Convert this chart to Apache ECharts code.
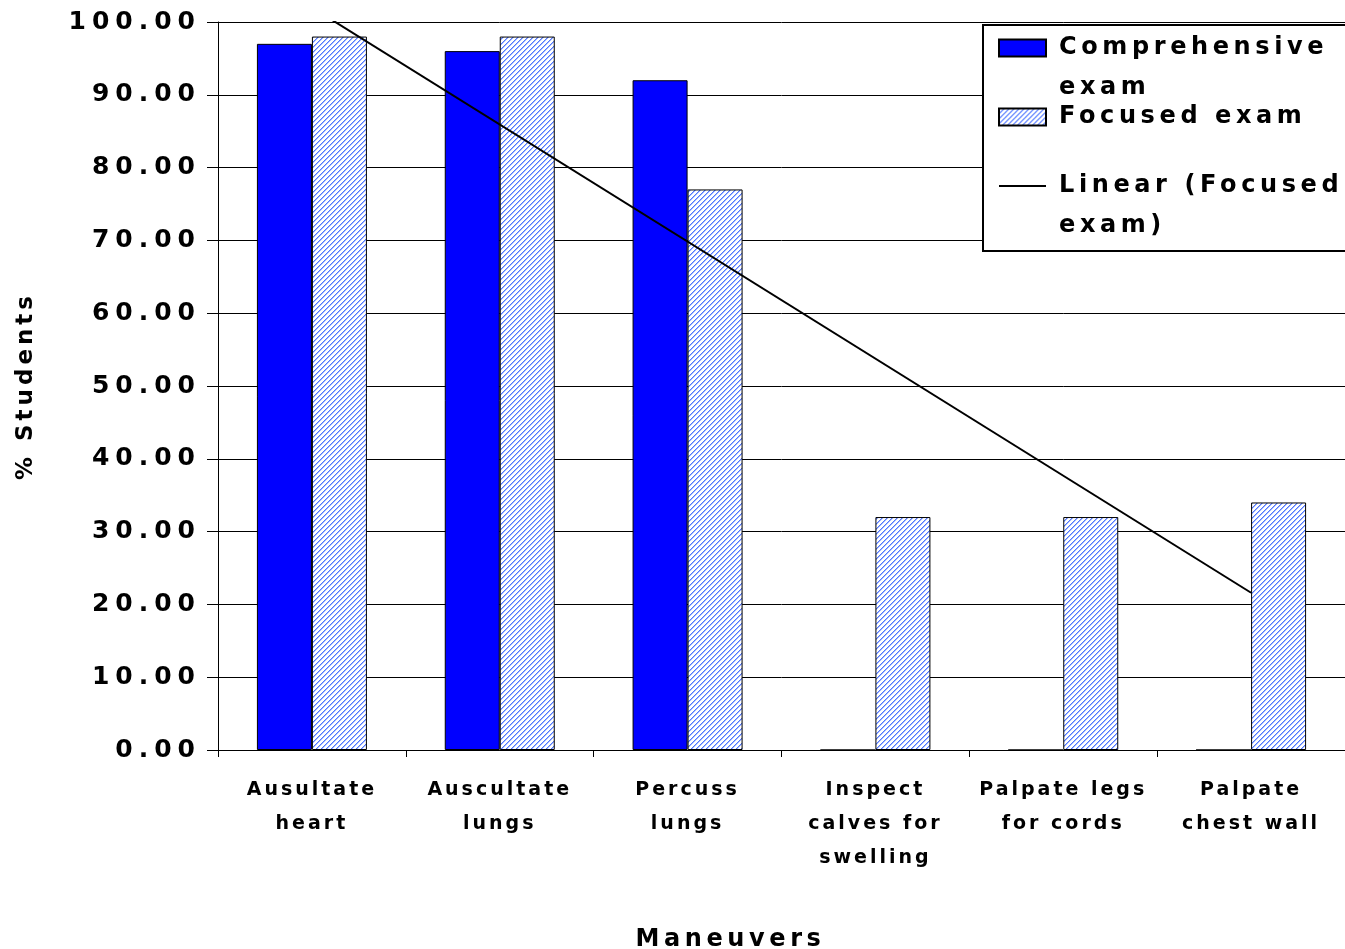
<!DOCTYPE html>
<html>
<head>
<meta charset="utf-8">
<script src="https://cdn.jsdelivr.net/npm/echarts@6/dist/echarts.min.js"></script>
<style>
html, body { margin: 0; padding: 0; background: #fff; overflow: hidden; }
#chart { width: 1345px; height: 949px; }
</style>
</head>
<body>
<div id="chart"></div>
<script>
const categories = ['Ausultate\nheart', 'Auscultate\nlungs', 'Percuss\nlungs', 'Inspect\ncalves for\nswelling', 'Palpate legs\nfor cords', 'Palpate\nchest wall'];
const comprehensiveExam = [97, 96, 92, 0, 0, 0];
const focusedExam = [98, 98, 77, 32, 32, 34];
const linearFocused = [102, null, null, null, null, 21.6];
const seriesNames = ['Comprehensive exam', 'Focused exam', 'Linear (Focused exam)'];
const legendLabels = ['\nComprehensive\nexam', 'Focused exam', '\nLinear (Focused\nexam)'];
const yAxisTitle = '% Students';
const xAxisTitle = 'Maneuvers';

// widen letter spacing to mimic the wide bitmap font of the original
const spacingBySize = { 25: 6, 19: 3, 24: 4.6, 23: 4 };
(function () {
  const proto = CanvasRenderingContext2D.prototype;
  const origFill = proto.fillText;
  proto.fillText = function (text, x, y, maxW) {
    const m = /(\d+(?:\.\d+)?)px/.exec(this.font || '');
    const fs = m ? Math.round(parseFloat(m[1])) : 0;
    if ('letterSpacing' in this) this.letterSpacing = (spacingBySize[fs] || 0) + 'px';
    return maxW === undefined ? origFill.call(this, text, x, y) : origFill.call(this, text, x, y, maxW);
  };
})();

// hatch pattern tile: 2px-wide blue diagonal bands, 5px pitch
const T = 5;
const tile = document.createElement('canvas');
tile.width = T; tile.height = T;
const tctx = tile.getContext('2d');
tctx.fillStyle = '#ffffff';
tctx.fillRect(0, 0, T, T);
for (let y = 0; y < T; y++) {
  tctx.fillStyle = '#5078ff';
  tctx.fillRect((T - 1 - y + T) % T, y, 1, 1);
  tctx.fillStyle = '#a3b6ff';
  tctx.fillRect((T - y) % T, y, 1, 1);
}
const hatch = { image: tile, repeat: 'repeat', imageWidth: T, imageHeight: T };

const FONT = 'DejaVu Sans';
const chart = echarts.init(document.getElementById('chart'), null, { renderer: 'canvas', devicePixelRatio: 1 });

chart.setOption({
  animation: false,
  backgroundColor: '#ffffff',
  textStyle: { fontFamily: FONT, fontWeight: 'bold', color: '#000' },
  grid: { left: 218, right: 0, top: 22, height: 728, containLabel: false, outerBoundsMode: 'none' },
  graphic: [{
    type: 'rect', left: 982, top: 24, z: 3,
    shape: { width: 420, height: 226 },
    style: { fill: '#ffffff', stroke: '#000000', lineWidth: 2 }
  }],
  legend: {
    orient: 'vertical', left: 998, top: -12, padding: 0,
    itemWidth: 47, itemHeight: 17, itemGap: -11, z: 5,
    textStyle: { fontFamily: FONT, fontWeight: 'bold', fontSize: 24, lineHeight: 40, color: '#000', backgroundColor: 'transparent', padding: [0, 0, 0, 8] },
    formatter: function (name) { return legendLabels[seriesNames.indexOf(name)]; },
    data: [
      { name: seriesNames[0], icon: 'rect' },
      { name: seriesNames[1], icon: 'rect' },
      { name: seriesNames[2], itemStyle: { color: 'rgba(0,0,0,0)', borderWidth: 0 } }
    ]
  },
  xAxis: {
    type: 'category',
    data: categories,
    name: xAxisTitle,
    nameLocation: 'middle',
    nameGap: 178,
    nameTextStyle: { fontFamily: FONT, fontWeight: 'bold', fontSize: 24, color: '#000', padding: [0, 102, 0, 0] },
    axisLine: { lineStyle: { color: '#000', width: 1 } },
    axisTick: { show: true, length: 7, lineStyle: { color: '#000' } },
    axisLabel: { interval: 0, margin: 23, fontFamily: FONT, fontWeight: 'bold', fontSize: 19, lineHeight: 34, color: '#000' }
  },
  yAxis: {
    type: 'value',
    min: 0, max: 100, interval: 10,
    name: yAxisTitle,
    nameLocation: 'middle',
    nameGap: 180,
    nameTextStyle: { fontFamily: FONT, fontWeight: 'bold', fontSize: 23, color: '#000' },
    axisLine: { show: true, lineStyle: { color: '#000', width: 1 } },
    axisTick: { show: true, length: 11, lineStyle: { color: '#000' } },
    splitLine: { show: true, lineStyle: { color: '#000', width: 1 } },
    axisLabel: { margin: 17, fontFamily: FONT, fontWeight: 'bold', fontSize: 25, color: '#000',
      formatter: function (v) { return v.toFixed(2); } }
  },
  series: [
    {
      name: seriesNames[0], type: 'bar', data: comprehensiveExam,
      barWidth: 55, barGap: '0%',
      itemStyle: { color: '#0000ff', borderColor: '#000', borderWidth: 1 }
    },
    {
      name: seriesNames[1], type: 'bar', data: focusedExam,
      barWidth: 55, barGap: '0%',
      itemStyle: { color: hatch, borderColor: '#000', borderWidth: 1 }
    },
    {
      name: seriesNames[2], type: 'line', data: linearFocused,
      connectNulls: true, symbol: 'none', showSymbol: false, clip: true, z: 4,
      lineStyle: { color: '#000', width: 2 }, itemStyle: { color: 'rgba(0,0,0,0)' }
    }
  ]
});
</script>
</body>
</html>
